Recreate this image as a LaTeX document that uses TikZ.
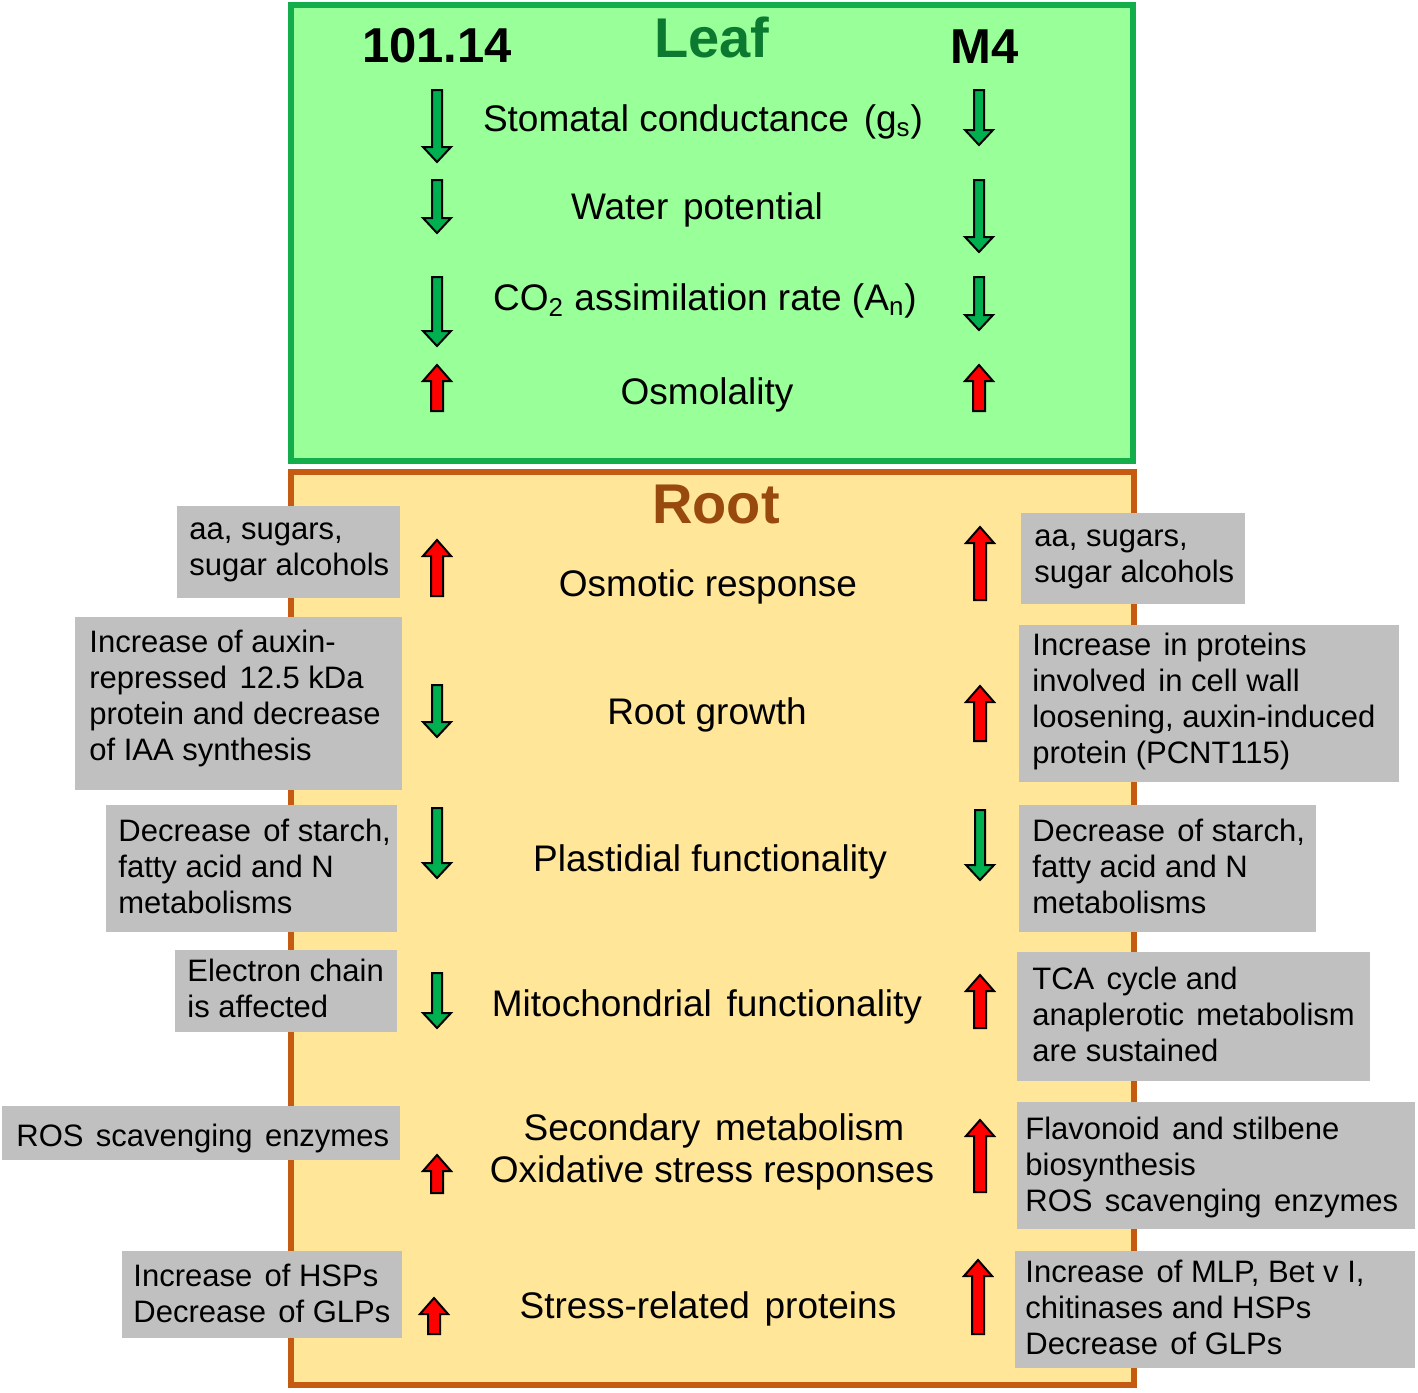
\documentclass[tikz,border=0pt]{standalone}
\usepackage{fontspec}
\setmainfont{Liberation Sans}
\definecolor{leafFill}{HTML}{99FF99}
\definecolor{leafLine}{HTML}{13AE4B}
\definecolor{leafTitle}{HTML}{0B7A30}
\definecolor{rootFill}{HTML}{FFE699}
\definecolor{rootLine}{HTML}{C55A11}
\definecolor{rootTitle}{HTML}{984A0E}
\definecolor{boxGray}{HTML}{C0C0C0}
\definecolor{arrGreen}{HTML}{00B050}
\definecolor{arrRed}{HTML}{FF0000}
\newcommand\wsp{\hspace{0.12em}}
\tikzset{
  arrshape/.style={draw=black,line width=1pt,line join=miter},
  gbox/.style={fill=boxGray,draw=none,anchor=north west,inner sep=0pt},
  gtext/.style={anchor=west,align=left,inner sep=0pt,font=\fontsize{15.5}{18}\selectfont},
  ctext/.style={anchor=base,inner sep=0pt,font=\fontsize{18.5}{21}\selectfont},
  ctitle/.style={anchor=base,inner sep=0pt,font=\fontsize{28}{30}\selectfont\bfseries},
  ltitle/.style={anchor=base,inner sep=0pt,font=\fontsize{24.5}{26}\selectfont\bfseries},
}
\newcommand\arrDn[3]{\filldraw[arrshape,fill=arrGreen] (#1-5,#2) -- (#1+5,#2) -- (#1+5,#3-15) -- (#1+14,#3-15) -- (#1,#3) -- (#1-14,#3-15) -- (#1-5,#3-15) -- cycle;}
\newcommand\arrUp[3]{\filldraw[arrshape,fill=arrRed] (#1-6,#3) -- (#1+6,#3) -- (#1+6,#2+16) -- (#1+14,#2+16) -- (#1,#2) -- (#1-14,#2+16) -- (#1-6,#2+16) -- cycle;}
\begin{document}
\begin{tikzpicture}[x=0.5pt,y=-0.5pt]
\useasboundingbox (0,0) rectangle (1418,1392);
\fill[white] (0,0) rectangle (1418,1392);
% Leaf box
\draw[draw=leafLine,fill=leafFill,line width=3.2pt] (291,5) rectangle (1133,461);
% Root box
\draw[draw=rootLine,fill=rootFill,line width=3pt] (290.5,472) rectangle (1133.5,1385);

% Titles
\node[ctitle,text=leafTitle] (leaf) at (712,57) {Leaf};
\node[ltitle] (c1) at (437,62) {101.14};
\node[ltitle] (c2) at (985,63) {M4};
\node[ctitle,text=rootTitle] (root) at (716,523) {Root};

% Leaf texts
\node[ctext] (gs) at (703,131) {Stomatal conductance\wsp\ (g\textsubscript{s})};
\node[ctext] (wp) at (697,219) {Water\wsp\ potential};
\node[ctext] (co) at (705,310) {CO\textsubscript{2} assimilation rate (A\textsubscript{n})};
\node[ctext] (os) at (707,404) {Osmolality};

% Leaf arrows
\arrDn{437}{90}{162}
\arrDn{979}{90}{145}
\arrDn{437}{180}{233}
\arrDn{979}{180}{252}
\arrDn{437}{277}{346}
\arrDn{979}{277}{330}
\arrUp{437}{365}{411}
\arrUp{979}{365}{411}

% Root texts
\node[ctext] (r1) at (708,596) {Osmotic response};
\node[ctext] (r2) at (707,724) {Root growth};
\node[ctext] (r3) at (710,871) {Plastidial functionality};
\node[ctext] (r4) at (707,1016) {Mitochondrial\wsp\ functionality};
\node[ctext] (r5a) at (714,1140) {Secondary\wsp\ metabolism};
\node[ctext] (r5b) at (712,1182) {Oxidative stress responses};
\node[ctext] (r6) at (708,1318) {Stress-related\wsp\ proteins};

% Root arrows
\arrUp{437}{540}{596}
\arrUp{980}{527}{600}
\arrDn{437}{685}{737}
\arrUp{980}{686}{741}
\arrDn{437}{808}{878}
\arrDn{980}{810}{880}
\arrDn{437}{973}{1028}
\arrUp{980}{975}{1028}
\arrUp{437}{1155}{1193}
\arrUp{980}{1120}{1192}
\arrUp{434}{1298}{1334}
\arrUp{978}{1260}{1334}

% Left gray boxes
\node[gbox,minimum width=111.5pt,minimum height=46pt] (L1) at (177,506) {};
\node[gtext] (L1t) at ([xshift=6pt,yshift=0pt]L1.west) {aa, sugars,\\sugar alcohols};
\node[gbox,minimum width=163.5pt,minimum height=86.5pt] (L2) at (75,617) {};
\node[gtext] (L2t) at ([xshift=7pt,yshift=2.5pt]L2.west) {Increase of auxin-\\repressed\wsp\ 12.5 kDa\\protein and decrease\\of IAA synthesis};
\node[gbox,minimum width=145.5pt,minimum height=63.5pt] (L3) at (106,805) {};
\node[gtext] (L3t) at ([xshift=6pt,yshift=1pt]L3.west) {Decrease\wsp\ of starch,\\fatty acid and N\\metabolisms};
\node[gbox,minimum width=111pt,minimum height=41pt] (L4) at (175,950) {};
\node[gtext] (L4t) at ([xshift=6pt,yshift=1.5pt]L4.west) {Electron chain\\is affected};
\node[gbox,minimum width=199pt,minimum height=27pt] (L5) at (2,1106) {};
\node[gtext] (L5t) at ([xshift=7pt,yshift=-2.5pt]L5.west) {ROS\wsp\ scavenging\wsp\ enzymes};
\node[gbox,minimum width=140pt,minimum height=43.5pt] (L6) at (122,1251) {};
\node[gtext] (L6t) at ([xshift=5.5pt,yshift=0.5pt]L6.west) {Increase\wsp\ of HSPs\\Decrease\wsp\ of GLPs};

% Right gray boxes
\node[gbox,minimum width=112pt,minimum height=45.5pt] (R1) at (1021,513) {};
\node[gtext] (R1t) at ([xshift=6.5pt,yshift=0pt]R1.west) {aa, sugars,\\sugar alcohols};
\node[gbox,minimum width=190pt,minimum height=78.5pt] (R2) at (1019,625) {};
\node[gtext] (R2t) at ([xshift=6.5pt,yshift=1pt]R2.west) {Increase\wsp\ in proteins\\involved\wsp\ in cell wall\\loosening, auxin-induced\\protein (PCNT115)};
\node[gbox,minimum width=148.5pt,minimum height=63.5pt] (R3) at (1019,805) {};
\node[gtext] (R3t) at ([xshift=6.5pt,yshift=1pt]R3.west) {Decrease\wsp\ of starch,\\fatty acid and N\\metabolisms};
\node[gbox,minimum width=176.5pt,minimum height=64.5pt] (R4) at (1017,952) {};
\node[gtext] (R4t) at ([xshift=7.5pt,yshift=1pt]R4.west) {TCA\wsp\ cycle and\\anaplerotic\wsp\ metabolism\\are sustained};
\node[gbox,minimum width=199pt,minimum height=63.5pt] (R5) at (1017,1102) {};
\node[gtext] (R5t) at ([xshift=4pt,yshift=-1pt]R5.west) {Flavonoid\wsp\ and stilbene\\biosynthesis\\ROS\wsp\ scavenging\wsp\ enzymes};
\node[gbox,minimum width=200pt,minimum height=58.5pt] (R6) at (1015,1251) {};
\node[gtext] (R6t) at ([xshift=5pt,yshift=1pt]R6.west) {Increase\wsp\ of MLP, Bet v I,\\chitinases and HSPs\\Decrease\wsp\ of GLPs};
\end{tikzpicture}
\end{document}
